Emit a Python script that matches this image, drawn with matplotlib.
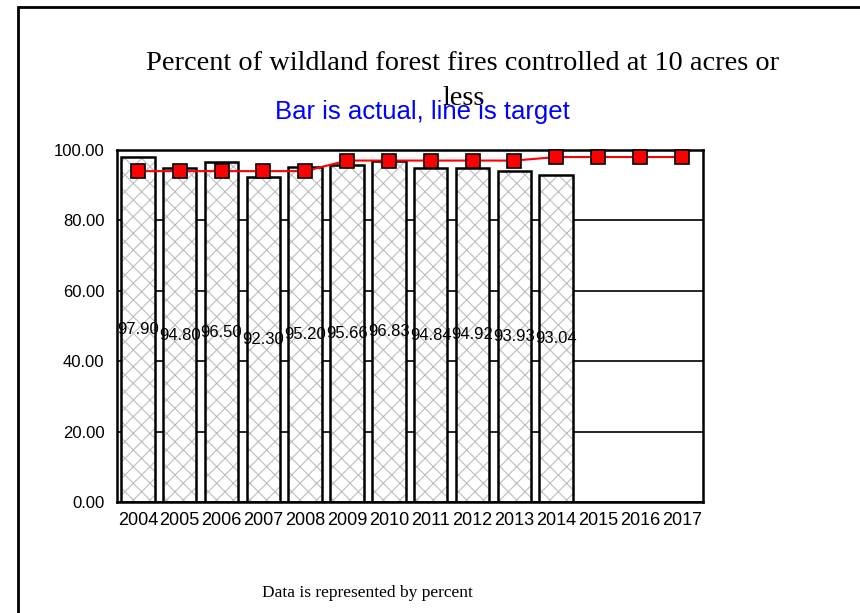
import matplotlib.pyplot as plt
import matplotlib.patches as mpatches
import numpy as np

years = ["2004", "2005", "2006", "2007", "2008", "2009", "2010",
         "2011", "2012", "2013", "2014", "2015", "2016", "2017"]
actual = [97.90, 94.80, 96.50, 92.30, 95.20, 95.66, 96.83,
          94.84, 94.92, 93.93, 93.04]
target = [94, 94, 94, 94, 94, 97, 97, 97, 97, 97, 98, 98, 98, 98]

plt.rcParams['hatch.linewidth'] = 0.8

fig = plt.figure(figsize=(8.6, 6.13), dpi=100)
ax = fig.add_axes([0.136, 0.181, 0.681, 0.5743])

x = np.arange(len(years))
xa = x[:len(actual)]

# hatched fill in light grey, then black outline on top
ax.bar(xa, actual, width=0.8, color='white', edgecolor='#bdbdbd',
       hatch='xx', linewidth=0, zorder=2)
ax.bar(xa, actual, width=0.8, facecolor='none', edgecolor='black',
       linewidth=1.8, zorder=3)

for xi, v in zip(xa, actual):
    ax.text(xi, v / 2, f"{v:.2f}", ha='center', va='center',
            fontsize=12, family='Liberation Sans', zorder=4)

ax.plot(x, target, color='red', linewidth=1.5, marker='s', markersize=10,
        markerfacecolor='red', markeredgecolor='black', markeredgewidth=1.2,
        zorder=5, clip_on=False)

ax.set_xlim(-0.5, len(years) - 0.5)
ax.set_ylim(0, 100)
ax.set_yticks([0, 20, 40, 60, 80, 100])
ax.set_yticklabels([f"{t:.2f}" for t in [0, 20, 40, 60, 80, 100]],
                   family='Liberation Sans', fontsize=12)
ax.set_xticks(x)
ax.set_xticklabels(years, family='Liberation Sans', fontsize=13)
ax.tick_params(axis='y', length=0, pad=9)
ax.tick_params(axis='x', length=0, pad=7)
ax.yaxis.grid(True, color='black', linewidth=1.2, zorder=1)
ax.set_axisbelow(True)
for s in ax.spines.values():
    s.set_linewidth(1.8)

fig.text(0.538, 0.886, "Percent of wildland forest fires controlled at 10 acres or",
         ha='center', va='baseline', family='Liberation Serif', fontsize=20.4)
fig.text(0.539, 0.829, "less", ha='center', va='baseline',
         family='Liberation Serif', fontsize=20.4)
fig.text(0.491, 0.806, "Bar is actual, line is target", ha='center', va='baseline',
         family='Liberation Sans', fontsize=18.5, color='blue')
fig.text(0.427, 0.033, "Data is represented by percent", ha='center', va='center',
         family='Liberation Serif', fontsize=12.5)

fig.patches.append(mpatches.Rectangle((18 / 860, -0.1), 1.1, 1.1 - 7 / 613,
                                      transform=fig.transFigure, fill=False,
                                      edgecolor='black', linewidth=2))

fig.savefig("out.png", dpi=100)
